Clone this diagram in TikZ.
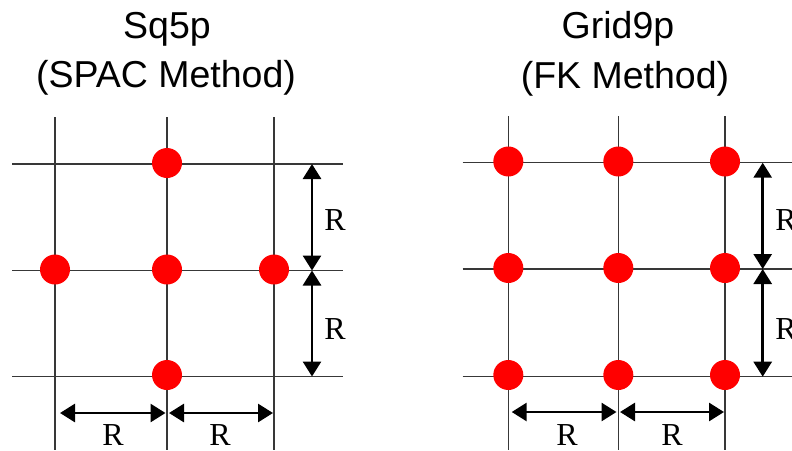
\documentclass[tikz,border=0pt]{standalone}
\usepackage{fontspec}
\setmainfont{Liberation Serif}
\setsansfont{Liberation Sans}
\usetikzlibrary{arrows.meta}
\begin{document}
\begin{tikzpicture}[x=1pt,y=-1pt,
  gridline/.style={draw=black!78, line width=1.3pt},
  dot/.style={circle, fill=red, minimum size=30pt, inner sep=0pt},
  dimarrow/.style={line width=2.8pt, {Triangle[width=18pt,length=15pt]}-{Triangle[width=18pt,length=15pt]}},
  lbl/.style={font=\fontsize{32}{32}\selectfont, inner sep=0pt},
  ttl/.style={font=\sffamily\fontsize{37.5}{37.5}\selectfont, inner sep=0pt, anchor=base}]
\useasboundingbox (0,0) rectangle (792,450);
% ---- titles
\node[ttl] (t1a) at (167,38) {Sq5p};
\node[ttl] (t1b) at (166,87) {(SPAC Method)};
\node[ttl] (t2a) at (618,38) {Grid9p};
\node[ttl] (t2b) at (625,88) {(FK Method)};
% ---- left grid
\foreach \x in {55,167,274} \draw[gridline] (\x,117) -- (\x,450);
\foreach \y in {164,270.5,376.5} \draw[gridline] (12,\y) -- (343,\y);
\node[dot] (L1) at (167,163) {};
\node[dot] (L2) at (55,269.5) {};
\node[dot] (L3) at (167,269.5) {};
\node[dot] (L4) at (274,269.5) {};
\node[dot] (L5) at (167,375) {};
\coordinate (lv0) at (312,164);
\coordinate (lv1) at (312,270.5);
\coordinate (lv2) at (312,376.5);
\draw[dimarrow] (lv0) -- (lv1);
\draw[dimarrow] (lv1) -- (lv2);
\coordinate (lh0) at (60,413);
\coordinate (lh1) at (165.5,413);
\coordinate (lh2) at (169,413);
\coordinate (lh3) at (273,413);
\draw[dimarrow] (lh0) -- (lh1);
\draw[dimarrow] (lh2) -- (lh3);
\node[lbl] (lr1) at (335,220) {R};
\node[lbl] (lr2) at (335,329) {R};
\node[lbl] (lr3) at (113,435.5) {R};
\node[lbl] (lr4) at (220,435.5) {R};
% ---- right grid
\foreach \x in {508.3,618.3,725} \draw[gridline] (\x,116) -- (\x,450);
\foreach \y in {162.7,269,376.7} \draw[gridline] (462.7,\y) -- (792,\y);
\foreach \x/\i in {508.3/1,618.3/2,725/3}
  \foreach \y/\j in {161.5/1,268/2,375/3}
    \node[dot] (G\i\j) at (\x,\y) {};
\coordinate (rv0) at (762.7,162.7);
\coordinate (rv1) at (762.7,269);
\coordinate (rv2) at (762.7,376.7);
\draw[dimarrow] (rv0) -- (rv1);
\draw[dimarrow] (rv1) -- (rv2);
\coordinate (rh0) at (511.7,412);
\coordinate (rh1) at (616.5,412);
\coordinate (rh2) at (620,412);
\coordinate (rh3) at (724,412);
\draw[dimarrow] (rh0) -- (rh1);
\draw[dimarrow] (rh2) -- (rh3);
\node[lbl] (rr1) at (786,220) {R};
\node[lbl] (rr2) at (786,329) {R};
\node[lbl] (rr3) at (567,435.5) {R};
\node[lbl] (rr4) at (672,435.5) {R};
\end{tikzpicture}
\end{document}
